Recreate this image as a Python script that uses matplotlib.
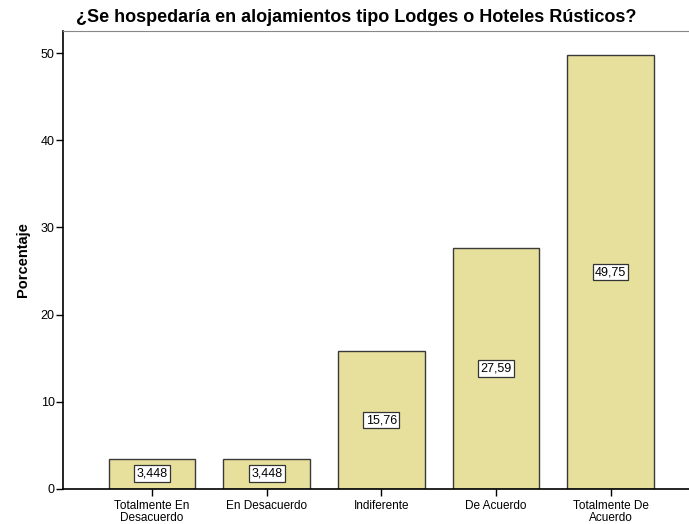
import matplotlib
matplotlib.use("Agg")
import matplotlib.pyplot as plt

categorias = ["Totalmente En\nDesacuerdo", "En Desacuerdo", "Indiferente",
              "De Acuerdo", "Totalmente De\nAcuerdo"]
porcentajes = [3.448, 3.448, 15.76, 27.59, 49.75]
etiquetas = ["3,448", "3,448", "15,76", "27,59", "49,75"]

plt.rcParams['font.family'] = ['Liberation Sans', 'DejaVu Sans']

fig = plt.figure(figsize=(6.89, 5.24), dpi=100)
ax = fig.add_axes([63/689, 1 - 488.7/524, 1 - 63/689, (488.7 - 31)/524])

x = range(len(categorias))
ax.bar(x, porcentajes, width=0.756, color='#E6E09C', edgecolor='#3a3a3a', linewidth=1.0)

for i, v in enumerate(porcentajes):
    ax.text(i, v / 2, etiquetas[i], ha='center', va='center', fontsize=9,
            bbox=dict(boxstyle='square,pad=0.18', facecolor='white', edgecolor='#333333', linewidth=0.9))

ax.set_xlim(-0.777, 4.684)
ax.set_ylim(0, 52.56)
ax.set_xticks(list(x))
ax.set_xticklabels(categorias, fontsize=8.5, linespacing=1.0)
ax.set_yticks([0, 10, 20, 30, 40, 50])
ax.tick_params(axis='y', labelsize=9, length=5, width=1, direction='out', pad=1)
ax.tick_params(axis='x', length=5, width=1, direction='out', pad=3)

ax.spines['right'].set_visible(False)
ax.spines['top'].set_color('#888888')
ax.spines['left'].set_linewidth(1.2)
ax.spines['bottom'].set_linewidth(1.2)

ax.set_ylabel('Porcentaje', fontsize=10.5, fontweight='bold', labelpad=8)
fig.text(356/689, 1 - 17/524, '¿Se hospedaría en alojamientos tipo Lodges o Hoteles Rústicos?',
         ha='center', va='center', fontsize=13, fontweight='bold')

fig.savefig('out.png', dpi=100)
